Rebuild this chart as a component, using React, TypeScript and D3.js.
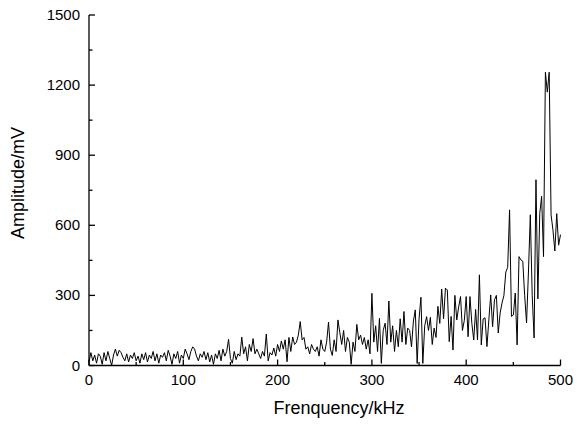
import React, { useEffect, useRef } from "react";
import * as d3 from "d3";

const W = 584;
const H = 424;

// Frequency step 2 kHz, 0..500
const freqStart = 0;
const freqStep = 2;
const amplitudes: number[] = [
  // 0-18
  15, 55, 20, 45, 10, 50, 40, 5, 55, 20,
  // 20-38
  60, 30, 0, 45, 70, 40, 65, 55, 35, 20,
  // 40-58
  50, 15, 45, 30, 55, 20, 40, 10, 50, 25,
  // 60-78
  55, 15, 45, 30, 60, 20, 50, 10, 45, 35,
  // 80-98
  55, 20, 65, 40, 5, 50, 30, 60, 10, 45,
  // 100-118
  30, 70, 50, 25, 60, 80, 70, 40, 20, 50,
  // 120-138
  35, 60, 25, 55, 15, 45, 5, 50, 30, 65,
  // 140-158
  20, 70, 40, 60, 112, 30, 10, 60, 25, 50,
  // 160-178
  40, 121, 50, 80, 20, 90, 60, 115, 50, 70,
  // 180-198
  50, 30, 60, 40, 135, 20, 55, 45, 75, 40,
  // 200-218
  90, 60, 105, 70, 110, 16, 120, 60, 122, 90,
  // 220-238
  100, 130, 188, 110, 120, 70, 80, 50, 90, 70,
  // 240-258
  60, 80, 40, 110, 70, 60, 100, 186, 70, 43,
  // 260-278
  110, 60, 195, 140, 90, 150, 60, 120, 100, 5,
  // 280-298
  100, 60, 176, 110, 130, 90, 120, 70, 110, 50,
  // 300-318
  309, 100, 170, 60, 202, 9, 150, 181, 90, 276,
  // 320-338
  100, 170, 60, 150, 80, 200, 100, 231, 90, 160,
  // 340-358
  150, 80, 190, 238, 9, 200, 292, 9, 170, 209,
  // 360-378
  150, 206, 90, 160, 120, 253, 180, 327, 200, 331,
  // 380-398
  323, 102, 210, 66, 300, 195, 250, 295, 150, 193,
  // 400-418
  295, 123, 295, 180, 109, 240, 109, 388, 88, 200,
  // 420-438
  204, 81, 195, 302, 166, 281, 300, 139, 225, 268,
  // 440-458
  300, 400, 420, 666, 210, 216, 310, 88, 466, 452,
  // 460-478
  446, 300, 182, 400, 645, 300, 118, 795, 285, 650,
  // 480-500
  724, 466, 1255, 1170, 1255, 645, 580, 490, 650, 515, 560,
];

const xTicks = [0, 100, 200, 300, 400, 500];
const xMinorTicks = [50, 150, 250, 350, 450];
const yTicks = [0, 300, 600, 900, 1200, 1500];
const yMinorTicks = [150, 450, 750, 1050, 1350];
const xTitle = "Frenquency/kHz";
const yTitle = "Amplitude/mV";

export default function App() {
  const ref = useRef<SVGSVGElement>(null);

  useEffect(() => {
    const svg = d3.select(ref.current);
    svg.selectAll("*").remove();

    const x = d3.scaleLinear().domain([0, 500]).range([89, 560.5]);
    const y = d3.scaleLinear().domain([0, 1500]).range([365.5, 15]);
    const font = "Arial, 'Liberation Sans', Helvetica, sans-serif";

    const data = amplitudes.map((v, i) => ({ f: freqStart + i * freqStep, v }));

    const line = d3
      .line<{ f: number; v: number }>()
      .x((d) => x(d.f))
      .y((d) => y(d.v));

    svg
      .append("path")
      .datum(data)
      .attr("d", line)
      .attr("fill", "none")
      .attr("stroke", "#000")
      .attr("stroke-width", 1)
      .attr("stroke-linejoin", "miter");

    const g = svg.append("g");
    // axis lines
    g.append("line")
      .attr("x1", x(0)).attr("x2", x(0))
      .attr("y1", y(0)).attr("y2", y(1500))
      .attr("stroke", "#000").attr("stroke-width", 1.3);
    g.append("line")
      .attr("x1", x(0)).attr("x2", x(500))
      .attr("y1", y(0)).attr("y2", y(0))
      .attr("stroke", "#000").attr("stroke-width", 1.3);

    // y ticks (inward)
    yTicks.forEach((t) => {
      g.append("line")
        .attr("x1", x(0)).attr("x2", x(0) + 6)
        .attr("y1", y(t)).attr("y2", y(t))
        .attr("stroke", "#000").attr("stroke-width", 1.3);
      g.append("text")
        .attr("x", 80)
        .attr("y", y(t) + 5)
        .attr("text-anchor", "end")
        .attr("font-family", font)
        .attr("font-size", 15)
        .text(String(t));
    });
    yMinorTicks.forEach((t) => {
      g.append("line")
        .attr("x1", x(0)).attr("x2", x(0) + 3.5)
        .attr("y1", y(t)).attr("y2", y(t))
        .attr("stroke", "#000").attr("stroke-width", 1.3);
    });

    xTicks.forEach((t) => {
      g.append("line")
        .attr("x1", x(t)).attr("x2", x(t))
        .attr("y1", y(0)).attr("y2", y(0) - 6)
        .attr("stroke", "#000").attr("stroke-width", 1.3);
      g.append("text")
        .attr("x", x(t))
        .attr("y", 384.5)
        .attr("text-anchor", "middle")
        .attr("font-family", font)
        .attr("font-size", 15)
        .text(String(t));
    });
    xMinorTicks.forEach((t) => {
      g.append("line")
        .attr("x1", x(t)).attr("x2", x(t))
        .attr("y1", y(0)).attr("y2", y(0) - 3.5)
        .attr("stroke", "#000").attr("stroke-width", 1.3);
    });

    g.append("text")
      .attr("x", 339)
      .attr("y", 413.5)
      .attr("text-anchor", "middle")
      .attr("font-family", font)
      .attr("font-size", 18)
      .text(xTitle);

    g.append("text")
      .attr("transform", `translate(24,${183}) rotate(-90)`)
      .attr("text-anchor", "middle")
      .attr("font-family", font)
      .attr("font-size", 18)
      .text(yTitle);
  }, []);

  return (
    <div style={{ position: "fixed", left: 0, top: 0 }}>
      <svg ref={ref} width={W} height={H} style={{ display: "block", background: "#fff" }} />
    </div>
  );
}
